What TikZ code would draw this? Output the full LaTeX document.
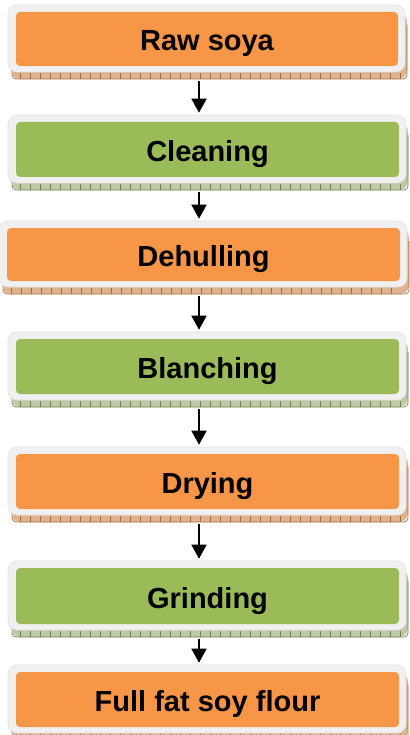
\documentclass[tikz,border=0pt]{standalone}
\usepackage{fontspec}
\setmainfont{Liberation Sans}
\usetikzlibrary{arrows.meta}

\definecolor{orangefill}{HTML}{F79646}
\definecolor{greenfill}{HTML}{9BBB59}
\definecolor{orangeshade}{HTML}{DDB390}
\definecolor{orangetick}{HTML}{A9693B}
\definecolor{greenshade}{HTML}{BFC9A8}
\definecolor{greentick}{HTML}{6F8049}
\definecolor{rimgray}{HTML}{F0F0F0}
\definecolor{rimedge}{HTML}{E2E2E2}

\tikzset{
  rim/.style={draw=rimedge, line width=0.6pt, fill=rimgray, rounded corners=9pt, inner sep=0pt},
  panel/.style={rounded corners=4pt, inner sep=0pt, text height=24pt, text depth=0pt,
    font=\fontsize{29pt}{30pt}\selectfont\bfseries},
  flowarrow/.style={line width=1.6pt, -{Triangle[width=15pt,length=14pt]},
    shorten <=9pt, shorten >=2pt}
}

% #1 name, #2/#3 left/right edge, #4/#5 top/bottom edge, #6 palette, #7 label
\newcommand{\stagebox}[7]{%
  % raised base below the rim, with its ribbed edge
  \fill[#6shade, rounded corners=9pt] (#2+3,#4+8) rectangle (#3+2,#5+7);
  \draw[#6tick, line width=0.7pt, rounded corners=4pt] (#2+4,#5+2) -- (#2+4,#5+7) -- (#3+2,#5+7) -- (#3+2,#4+20);
  \foreach \t in {0,...,38}{%
    \draw[#6tick, line width=0.4pt] ({#2+12+\t*10},#5+1) -- ({#2+12+\t*10},#5+7);}
  \node[rim, minimum width={#3pt-#2pt}, minimum height={#5pt-#4pt}]
    (#1-rim) at ({(#2+#3)/2},{(#4+#5)/2}) {};
  \node[panel, fill=#6fill, minimum width={#3pt-#2pt-15pt}, minimum height={#5pt-#4pt-13pt}]
    (#1) at ({(#2+#3)/2+0.5},{(#4+#5)/2+0.5}) {#7};
}

\begin{document}
\begin{tikzpicture}[x=1pt,y=-1pt]
\useasboundingbox (0,0) rectangle (409,735);
\fill[white] (0,0) rectangle (409,735);

\stagebox{raw}{8}{405}{5}{72}{orange}{Raw soya}
\stagebox{clean}{8}{406}{115}{183}{green}{Cleaning}
\stagebox{dehull}{-1}{407}{221}{287}{orange}{Dehulling}
\stagebox{blanch}{8}{406}{332}{400}{green}{Blanching}
\stagebox{dry}{8}{406}{447}{515}{orange}{Drying}
\stagebox{grind}{8}{406}{561}{630}{green}{Grinding}
\stagebox{flour}{8}{406}{665}{733}{orange}{Full fat soy flour}

\coordinate (spine) at (199,0);
\draw[flowarrow] (spine |- raw-rim.south) -- (spine |- clean-rim.north);
\draw[flowarrow] (spine |- clean-rim.south) -- (spine |- dehull-rim.north);
\draw[flowarrow] (spine |- dehull-rim.south) -- (spine |- blanch-rim.north);
\draw[flowarrow] (spine |- blanch-rim.south) -- (spine |- dry-rim.north);
\draw[flowarrow] (spine |- dry-rim.south) -- (spine |- grind-rim.north);
\draw[flowarrow] (spine |- grind-rim.south) -- (spine |- flour-rim.north);
\end{tikzpicture}
\end{document}
